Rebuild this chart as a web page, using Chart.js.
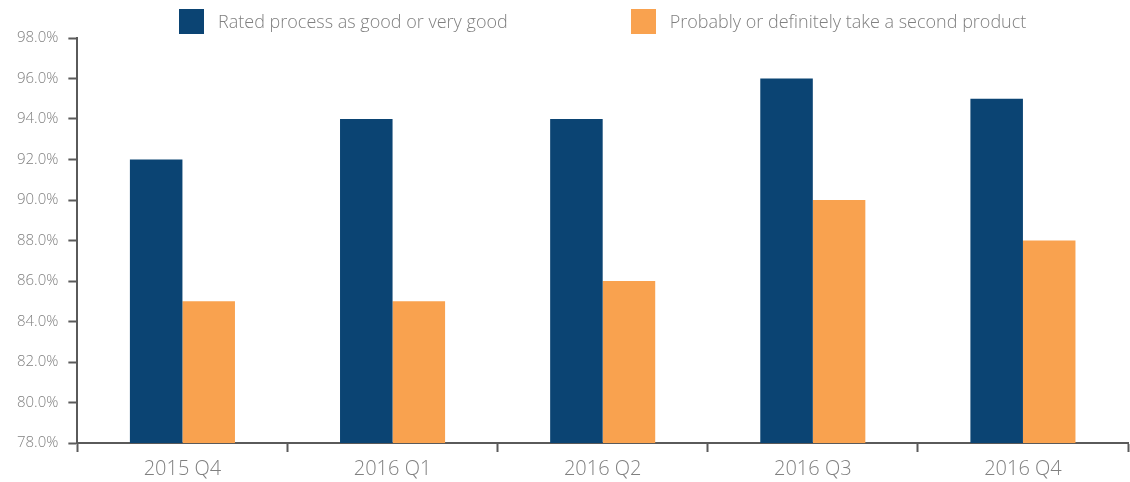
<!DOCTYPE html>
<html>
<head>
<meta charset="utf-8">
<script src="https://cdn.jsdelivr.net/npm/chart.js@4/dist/chart.umd.min.js"></script>
<style>
    html, body { margin: 0; padding: 0; background: #fff; }
    #wrap { width: 1130px; height: 482px; }
</style>
</head>
<body>
<div id="wrap"><canvas id="surveyChart"></canvas></div>
<script>
const quarters = ["2015 Q4", "2016 Q1", "2016 Q2", "2016 Q3", "2016 Q4"];
const ratedGood = [92, 94, 94, 96, 95];
const secondProduct = [85, 85, 86, 90, 88];
const seriesNames = ["Rated process as good or very good", "Probably or definitely take a second product"];

const axisColor = "#5a5a5a";
const textColor = "#808080";
const legendFont = "300 18px 'Open Sans'";

// the built-in legend can't space items this far apart without also
// pushing the plot down, so draw a simple one centred over the plot
const wideLegend = {
    id: "wideLegend",
    afterDraw(chart) {
        const ctx = chart.ctx;
        const area = chart.chartArea;
        const box = 25, gap = 14, itemGap = 123;
        ctx.save();
        ctx.font = legendFont;
        const items = chart.data.datasets.map(ds => ({
            text: ds.label,
            color: ds.backgroundColor,
            w: box + gap + ctx.measureText(ds.label).width
        }));
        const total = items.reduce((s, it) => s + it.w, 0) + itemGap * (items.length - 1);
        let x = (area.left + area.right) / 2 - total / 2;
        const cy = 21.5;
        ctx.textBaseline = "middle";
        items.forEach(it => {
            ctx.fillStyle = it.color;
            ctx.fillRect(Math.round(x), cy - box / 2, box, box);
            ctx.fillStyle = textColor;
            ctx.fillText(it.text, x + box + gap, cy + 1);
            x += it.w + itemGap;
        });
        ctx.restore();
    }
};

document.addEventListener("DOMContentLoaded", function () {
    new Chart(document.getElementById("surveyChart"), {
        type: "bar",
        data: {
            labels: quarters,
            datasets: [{
                label: seriesNames[0],
                data: ratedGood,
                backgroundColor: "#0b4473",
                categoryPercentage: 0.5,
                barPercentage: 1.0
            }, {
                label: seriesNames[1],
                data: secondProduct,
                backgroundColor: "#f9a24f",
                categoryPercentage: 0.5,
                barPercentage: 1.0
            }]
        },
        options: {
            responsive: true,
            maintainAspectRatio: false,
            animation: false,
            layout: { padding: { left: 7, right: 2, top: 38, bottom: -4 } },
            plugins: {
                tooltip: { enabled: false },
                legend: { display: false }
            },
            scales: {
                x: {
                    grid: {
                        drawOnChartArea: false,
                        tickLength: 9,
                        tickWidth: 2,
                        color: axisColor
                    },
                    border: { color: axisColor, width: 2 },
                    ticks: {
                        color: textColor,
                        padding: 5,
                        font: { family: "'Open Sans'", size: 20, weight: 300 }
                    }
                },
                y: {
                    min: 78,
                    max: 98,
                    grid: {
                        drawOnChartArea: false,
                        tickLength: 9,
                        tickWidth: 2,
                        color: axisColor
                    },
                    border: { color: axisColor, width: 2 },
                    ticks: {
                        stepSize: 2,
                        color: textColor,
                        padding: 10,
                        font: { family: "'Open Sans'", size: 15, weight: 300 },
                        callback: function (v) { return v.toFixed(1) + "%"; }
                    }
                }
            }
        },
        plugins: [wideLegend]
    });
});
</script>
</body>
</html>
